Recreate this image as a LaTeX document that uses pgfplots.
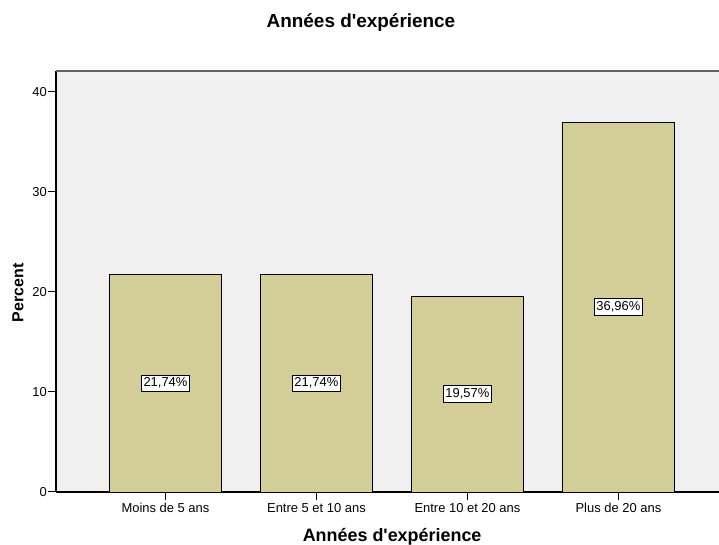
\documentclass[border=0pt]{standalone}
\usepackage{pgfplots}
\pgfplotsset{compat=1.18}
\usepackage{fontspec}
\setmainfont{Liberation Sans}
\definecolor{barfill}{RGB}{211,206,151}
\definecolor{plotbg}{RGB}{240,240,240}
\definecolor{topline}{RGB}{100,100,100}
\begin{document}
\begin{tikzpicture}
\begin{axis}[
  scale only axis,
  width=663bp, height=421bp,
  xmin=-0.725, xmax=3.666,
  ymin=0, ymax=42.1,
  axis lines*=left,
  axis line style={black, line width=1.2bp},
  axis background/.style={fill=plotbg},
  tick align=outside,
  major tick length=8bp,
  tick style={black, line width=1bp},
  xtick={0,1,2,3},
  xticklabels={Moins de 5 ans, Entre 5 et 10 ans, Entre 10 et 20 ans, Plus de 20 ans},
  ytick={0,10,20,30,40},
  /pgf/number format/assume math mode=true,
  ticklabel style={font=\fontsize{13}{15}\selectfont},
  yticklabel style={inner sep=1bp},
  title={Années d\textquotesingle expérience},
  title style={at={(axis description cs:0.46,1.0998)}, anchor=center, font=\bfseries\fontsize{19}{22}\selectfont},
  xlabel={Années d\textquotesingle expérience},
  xlabel style={at={(axis description cs:0.507,-0.1069)}, anchor=center, font=\bfseries\fontsize{18}{21}\selectfont},
  ylabel={Percent},
  ylabel style={at={(axis description cs:-0.0573,0.473)}, anchor=center, font=\bfseries\fontsize{16}{19}\selectfont},
]
\addplot[ybar, bar width=0.748, fill=barfill, draw=black, line width=0.9bp]
  coordinates {(0,21.74) (1,21.74) (2,19.57) (3,36.96)};
\addplot[draw=none, nodes near coords, point meta=explicit symbolic,
  every node near coord/.style={anchor=center, draw=black, fill=white, line width=0.7bp,
    inner xsep=2bp, inner ysep=3bp, font=\fontsize{13}{15}\selectfont}]
  coordinates {(0,10.87)[21,74\%] (1,10.87)[21,74\%] (2,9.785)[19,57\%] (3,18.48)[36,96\%]};
\draw[topline, line width=1.5bp] (rel axis cs:0,1) -- (rel axis cs:1,1);
\end{axis}
\pgfresetboundingbox
\path[use as bounding box] (-56bp,-53bp) rectangle (663bp,492bp);
\end{tikzpicture}
\end{document}
